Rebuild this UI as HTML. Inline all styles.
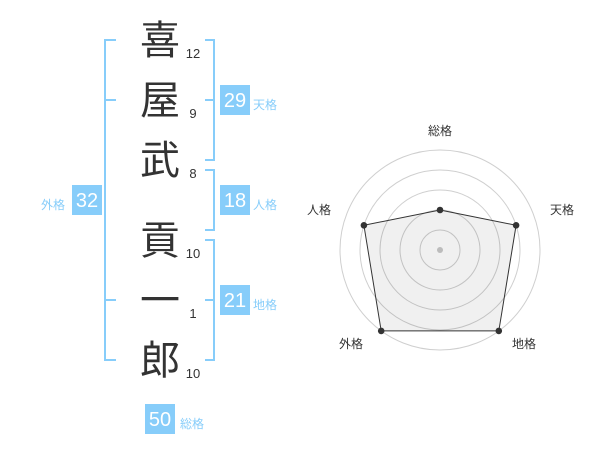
<!DOCTYPE html>
<html><head><meta charset="utf-8"><style>
html,body{margin:0;padding:0;background:#fff;}
body{width:600px;height:470px;overflow:hidden;}
svg text{font-family:"Liberation Sans","Noto Sans CJK JP",sans-serif;}
</style></head><body>
<svg width="600" height="470" viewBox="0 0 600 470" xmlns="http://www.w3.org/2000/svg">
<g stroke="#87cdfa" stroke-width="2" fill="none">
  <path d="M116 40 H105 V360 H116 M105 100 H116 M105 300 H116"/>
  <path d="M205 40 H214 V160 H205 M205 100 H214"/>
  <path d="M205 170 H214 V230 H205"/>
  <path d="M205 240 H214 V360 H205 M205 300 H214"/>
</g>
<g fill="#333" font-size="40" text-anchor="middle">
  <text x="160" y="54">喜</text>
  <text x="160" y="114">屋</text>
  <text x="160" y="174">武</text>
  <text x="160" y="254">貢</text>
  <text x="160" y="314">一</text>
  <text x="160" y="374">郎</text>
</g>
<g fill="#333" font-size="13" text-anchor="middle">
  <text x="193" y="58">12</text>
  <text x="193" y="118">9</text>
  <text x="193" y="178">8</text>
  <text x="193" y="258">10</text>
  <text x="193" y="318">1</text>
  <text x="193" y="378">10</text>
</g>
<g fill="#87cdfa">
  <rect x="220" y="85" width="30" height="30"/>
  <rect x="220" y="185" width="30" height="30"/>
  <rect x="220" y="285" width="30" height="30"/>
  <rect x="72" y="185" width="30" height="30"/>
  <rect x="145" y="404" width="30" height="30"/>
</g>
<g fill="#fff" font-size="20" text-anchor="middle">
  <text x="235" y="107">29</text>
  <text x="235" y="207">18</text>
  <text x="235" y="307">21</text>
  <text x="87" y="207">32</text>
  <text x="160" y="426">50</text>
</g>
<g fill="#87cdfa" font-size="12">
  <text x="253" y="109">天格</text>
  <text x="253" y="209">人格</text>
  <text x="253" y="309">地格</text>
  <text x="41" y="209">外格</text>
  <text x="180" y="428">総格</text>
</g>
<g fill="none" stroke="#cfcfcf" stroke-width="1">
  <circle cx="440" cy="250" r="20"/>
  <circle cx="440" cy="250" r="40"/>
  <circle cx="440" cy="250" r="60"/>
  <circle cx="440" cy="250" r="80"/>
  <circle cx="440" cy="250" r="100"/>
</g>
<circle cx="440" cy="250" r="3" fill="#c8c8c8"/>
<polygon points="440,210 516.1,225.3 498.8,330.9 381.2,330.9 363.9,225.3" fill="rgba(0,0,0,0.06)" stroke="#333" stroke-width="1"/>
<g fill="#333">
  <circle cx="440" cy="210" r="3.3"/>
  <circle cx="516.1" cy="225.3" r="3.3"/>
  <circle cx="498.8" cy="330.9" r="3.3"/>
  <circle cx="381.2" cy="330.9" r="3.3"/>
  <circle cx="363.9" cy="225.3" r="3.3"/>
</g>
<g fill="#333" font-size="12">
  <text x="440" y="135" text-anchor="middle">総格</text>
  <text x="550" y="214">天格</text>
  <text x="307" y="214">人格</text>
  <text x="339" y="348">外格</text>
  <text x="512" y="348">地格</text>
</g>
</svg>
</body></html>
